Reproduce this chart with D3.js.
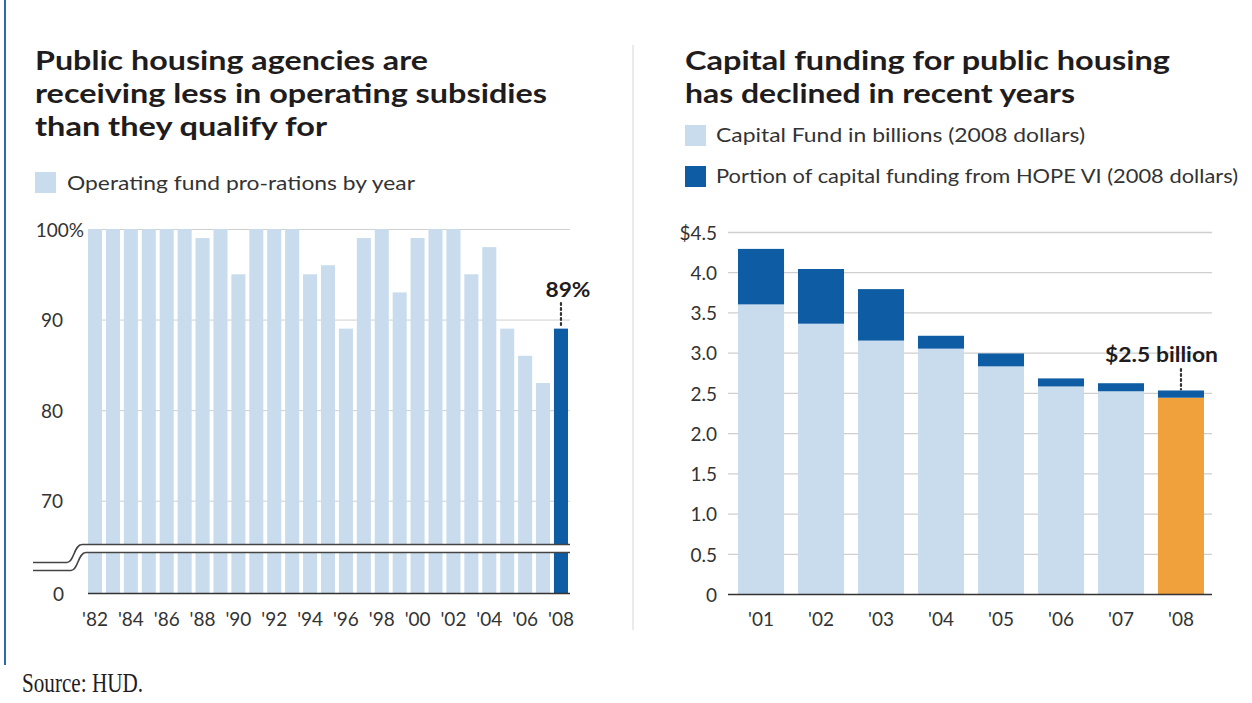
<!DOCTYPE html>
<html>
<head>
<meta charset="utf-8">
<script src="https://cdn.jsdelivr.net/npm/d3@7"></script>
<style>
  body { margin: 0; background: #fff; }
  svg { display: block; }
  text { font-family: Lato, "Open Sans", sans-serif; fill: #1f1c1d; }
</style>
</head>
<body>
<svg id="chart" width="1252" height="703"></svg>
<script>
// ---------------- data ----------------
const opYears = ["'82","'83","'84","'85","'86","'87","'88","'89","'90","'91","'92","'93","'94","'95",
                 "'96","'97","'98","'99","'00","'01","'02","'03","'04","'05","'06","'07","'08"];
const opValues = [100,100,100,100,100,100,99,100,95,100,100,100,95,96,
                  89,99,100,93,99,100,100,95,98,89,86,83,89];
const opTicks = [0,70,80,90,100];

const capYears = ["'01","'02","'03","'04","'05","'06","'07","'08"];
const capBase  = [3.60,3.36,3.15,3.05,2.83,2.58,2.52,2.44];
const capHope  = [0.69,0.68,0.64,0.16,0.16,0.10,0.10,0.09];
const capTicks = [0,0.5,1.0,1.5,2.0,2.5,3.0,3.5,4.0,4.5];

const lightBlue = "#c9dced";
const darkBlue = "#0d5ca4";
const orange = "#f0a13b";
const gridGray = "#cfcfcf";

const svg = d3.select("#chart");

// fit text to a measured width from the picture
function fit(sel, w) {
  sel.attr("textLength", w).attr("lengthAdjust", "spacingAndGlyphs");
}

// page frame
svg.append("line").attr("x1",5).attr("x2",5).attr("y1",0).attr("y2",665)
  .attr("stroke","#2a6bb3").attr("stroke-width",2);
svg.append("line").attr("x1",633).attr("x2",633).attr("y1",45).attr("y2",630)
  .attr("stroke","#d6d6d6").attr("stroke-width",1);

svg.append("text").attr("x",22).attr("y",692)
  .style("font-family","'Liberation Serif', serif").style("font-size","27px")
  .text("Source: HUD.").call(fit,121);

// --------------------------------------------------
// LEFT CHART
// --------------------------------------------------

const leftTitle = ["Public housing agencies are","receiving less in operating subsidies","than they qualify for"];
const leftTitleW = [393,512,292];
leftTitle.forEach((t,i)=>{
  svg.append("text").attr("x",35).attr("y",70+i*33)
    .style("font-size","27px").style("font-weight","700")
    .text(t).call(fit,leftTitleW[i]);
});

svg.append("rect").attr("x",35).attr("y",172).attr("width",21).attr("height",21).attr("fill",lightBlue);
svg.append("text").attr("x",67).attr("y",190).style("font-size","19px").style("fill","#333")
  .text("Operating fund pro-rations by year").call(fit,348);

const xL = d3.scaleBand().domain(opYears).range([88,568]).paddingInner(0.216).paddingOuter(0);
const yL = d3.scaleLinear().domain([0,65,100]).range([593,546,229]);

// gridlines
svg.append("g")
  .attr("transform","translate(88,0)")
  .call(d3.axisLeft(yL).tickValues(opTicks.filter(d=>d>0)).tickSize(-482).tickFormat(""))
  .call(g=>g.select(".domain").remove())
  .call(g=>g.selectAll("line").attr("stroke",gridGray));

svg.append("g").selectAll("rect")
  .data(opValues)
  .enter().append("rect")
  .attr("x",(d,i)=>xL(opYears[i]))
  .attr("width",xL.bandwidth())
  .attr("y",d=>yL(d))
  .attr("height",d=>yL(0)-yL(d))
  .attr("fill",(d,i)=>i===opValues.length-1 ? darkBlue : lightBlue);

// axis break
svg.append("rect").attr("x",30).attr("y",545).attr("width",545).attr("height",8).attr("fill","#fff");
svg.append("path")
  .attr("d","M33,562.5 L67,562.5 C74,562.5 74,544.5 82,544.5 L570,544.5")
  .attr("fill","none").attr("stroke","#444").attr("stroke-width",1.6);
svg.append("path")
  .attr("d","M33,570.5 L71,570.5 C78,570.5 78,552.5 86,552.5 L570,552.5")
  .attr("fill","none").attr("stroke","#444").attr("stroke-width",1.6);

// baseline
svg.append("line").attr("x1",88).attr("x2",570).attr("y1",593.5).attr("y2",593.5)
  .attr("stroke","#333").attr("stroke-width",1.5);

// y labels
svg.append("g")
  .attr("transform","translate(64,0)")
  .call(d3.axisLeft(yL).tickValues(opTicks).tickSize(0).tickPadding(0)
    .tickFormat(d=>d===100 ? "100%" : d))
  .call(g=>g.select(".domain").remove())
  .call(g=>g.selectAll("text")
    .attr("dy","0.38em")
    .style("font-family","Lato, sans-serif").style("font-size","19px").style("fill","#333")
    .attr("dx",d=>d===100 ? 20 : (d===0 ? 0 : -1)));

// x labels every other year
svg.append("g")
  .attr("transform","translate(0,600)")
  .call(d3.axisBottom(xL).tickValues(opYears.filter((d,i)=>i%2===0)).tickSize(0).tickPadding(0))
  .call(g=>g.select(".domain").remove())
  .call(g=>g.selectAll("text")
    .attr("y",26).attr("dy",0)
    .style("font-family","Lato, sans-serif").style("font-size","19px").style("fill","#333"));

// 89% callout
const lastOp = opYears[opYears.length-1];
const lastX = xL(lastOp)+xL.bandwidth()/2;
svg.append("line").attr("x1",lastX).attr("x2",lastX)
  .attr("y1",303).attr("y2",yL(opValues[opValues.length-1])-1)
  .attr("stroke","#333").attr("stroke-width",2.2)
  .attr("stroke-dasharray","2,3").attr("stroke-linecap","round");
svg.append("text").attr("x",lastX+7).attr("y",297).attr("text-anchor","middle")
  .style("font-size","21px").style("font-weight","700")
  .text(opValues[opValues.length-1]+"%").call(fit,45);

// --------------------------------------------------
// RIGHT CHART
// --------------------------------------------------

const rightTitle = ["Capital funding for public housing","has declined in recent years"];
const rightTitleW = [485,390];
rightTitle.forEach((t,i)=>{
  svg.append("text").attr("x",685).attr("y",70+i*33)
    .style("font-size","27px").style("font-weight","700")
    .text(t).call(fit,rightTitleW[i]);
});

const legendR = [
  {label:"Capital Fund in billions (2008 dollars)", color:lightBlue, w:369},
  {label:"Portion of capital funding from HOPE VI (2008 dollars)", color:darkBlue, w:522}
];
legendR.forEach((l,i)=>{
  svg.append("rect").attr("x",685).attr("y",125+i*41).attr("width",21).attr("height",21).attr("fill",l.color);
  svg.append("text").attr("x",716).attr("y",142+i*41).style("font-size","19px").style("fill","#333")
    .text(l.label).call(fit,l.w);
});

const xR = d3.scaleBand().domain(capYears).range([731,1211]).paddingInner(0.233).paddingOuter(0.117);
const yR = d3.scaleLinear().domain([0,4.5]).range([594,232]);

svg.append("g")
  .attr("transform","translate(728,0)")
  .call(d3.axisLeft(yR).tickValues(capTicks.filter(d=>d>0)).tickSize(-484).tickFormat(""))
  .call(g=>g.select(".domain").remove())
  .call(g=>g.selectAll("line").attr("stroke",gridGray).attr("stroke-width",1.3));

const capRows = capYears.map((y,i)=>({year:y, base:capBase[i], hope:capHope[i], last:i===capYears.length-1}));

svg.append("g").selectAll("rect.base")
  .data(capRows).enter().append("rect")
  .attr("class","base")
  .attr("x",d=>xR(d.year)).attr("width",xR.bandwidth())
  .attr("y",d=>yR(d.base)).attr("height",d=>yR(0)-yR(d.base))
  .attr("fill",d=>d.last ? orange : lightBlue);

svg.append("g").selectAll("rect.hope")
  .data(capRows).enter().append("rect")
  .attr("class","hope")
  .attr("x",d=>xR(d.year)).attr("width",xR.bandwidth())
  .attr("y",d=>yR(d.base+d.hope)).attr("height",d=>yR(d.base)-yR(d.base+d.hope))
  .attr("fill",darkBlue);

svg.append("line").attr("x1",728).attr("x2",1212).attr("y1",594.5).attr("y2",594.5)
  .attr("stroke","#333").attr("stroke-width",1.5);

svg.append("g")
  .attr("transform","translate(717,0)")
  .call(d3.axisLeft(yR).tickValues(capTicks).tickSize(0).tickPadding(0)
    .tickFormat(d=>d===0 ? "0" : (d===4.5 ? "$4.5" : d3.format(".1f")(d))))
  .call(g=>g.select(".domain").remove())
  .call(g=>g.selectAll("text")
    .attr("dy","0.38em")
    .style("font-family","Lato, sans-serif").style("font-size","19px").style("fill","#333"));

svg.append("g")
  .attr("transform","translate(0,600)")
  .call(d3.axisBottom(xR).tickSize(0).tickPadding(0))
  .call(g=>g.select(".domain").remove())
  .call(g=>g.selectAll("text")
    .attr("y",26).attr("dy",0)
    .style("font-family","Lato, sans-serif").style("font-size","19px").style("fill","#333"));

// $2.5 billion callout
const lastCap = capRows[capRows.length-1];
const capX = xR(lastCap.year)+xR.bandwidth()/2;
svg.append("line").attr("x1",capX).attr("x2",capX)
  .attr("y1",369).attr("y2",yR(lastCap.base+lastCap.hope)-1)
  .attr("stroke","#333").attr("stroke-width",2.2)
  .attr("stroke-dasharray","2,3").attr("stroke-linecap","round");
svg.append("text").attr("x",1105).attr("y",362)
  .style("font-size","21px").style("font-weight","700")
  .text("$2.5 billion").call(fit,113);
</script>
</body>
</html>
